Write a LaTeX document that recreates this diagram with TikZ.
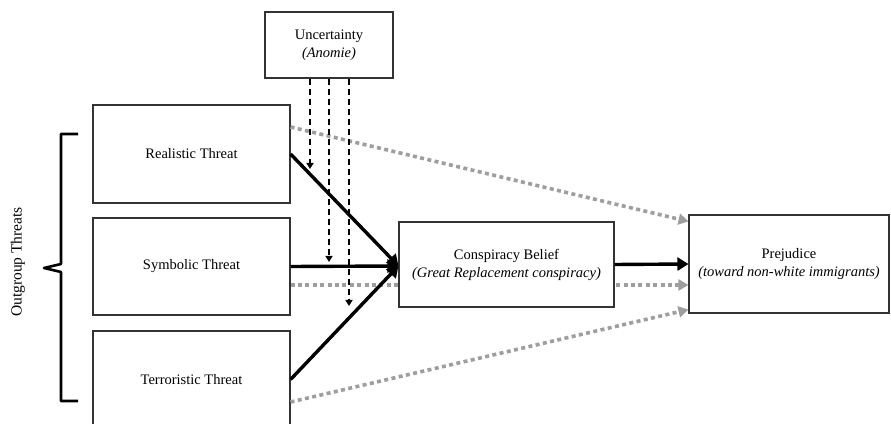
\documentclass[tikz,border=0pt]{standalone}
\usepackage{fontspec}
\setmainfont{Liberation Serif}
\usetikzlibrary{positioning,calc}
\usetikzlibrary{arrows.meta}
\definecolor{PathGray}{RGB}{158,158,158}
\tikzset{
  box/.style={draw=black!80,fill=white,line width=1.1pt,inner sep=0pt,align=center,
    font=\fontsize{14.5}{18}\selectfont},
  mainpath/.style={draw=black,line width=3.4pt,-{Triangle[length=11pt,width=13pt]}},
  directpath/.style={draw=PathGray,line width=3.6pt,dash pattern=on 4pt off 3.4pt,
    -{Triangle[length=10pt,width=11pt,fill=PathGray]}},
  moderator/.style={draw=black,line width=2.2pt,dash pattern=on 6pt off 4pt,
    -{Triangle[length=6pt,width=7pt]}},
}
\tikzset{brace/.style={draw=black,line width=2.6pt,line join=round}}

\begin{document}
\begin{tikzpicture}[x=1pt,y=1pt]
\useasboundingbox (0,0) rectangle (891,423);
% boxes
\node[box,minimum width=128pt,minimum height=66pt] (unc) at (329,378) {Uncertainty\\\textit{(Anomie)}};
\node[box,minimum width=197pt,minimum height=98pt] (real) at (191.5,269) {Realistic Threat};
\node[box,minimum width=197pt,minimum height=97pt] (symb) at (191.5,156.5) {Symbolic Threat};
\node[box,minimum width=197pt,minimum height=97pt] (terr) at (191.5,43.5) {Terroristic Threat};
\node[box,minimum width=200pt,minimum height=98pt] (prej) at (789,159) {Prejudice\\\textit{(toward non-white immigrants)}};
% direct effects (behind the mediator box)
\draw[directpath] ([yshift=27pt]real.east) -- ([yshift=-7pt]prej.north west);
\draw[directpath] ([yshift=-18.5pt]symb.east) -- ([yshift=-21pt]prej.west);
\draw[directpath] ([yshift=-22.5pt]terr.east) -- ([yshift=4pt]prej.south west);
\node[box,minimum width=215pt,minimum height=85pt] (consp) at (506.5,158.5) {Conspiracy Belief\\\textit{(Great Replacement conspiracy)}};
% indirect paths
\coordinate (conv) at ([yshift=-1.5pt]consp.west);
\draw[mainpath] (real.east) -- (conv);
\draw[mainpath] (symb.east) -- (conv);
\draw[mainpath] (terr.east) -- (conv);
\draw[mainpath] (consp.east) -- (prej.west);
% moderation by uncertainty
\coordinate (m1) at (310,254);
\coordinate (m2) at (329,161);
\coordinate (m3) at (349,117);
\draw[moderator] (unc.south -| m1) -- (m1);
\draw[moderator] (unc.south -| m2) -- (m2);
\draw[moderator] (unc.south -| m3) -- (m3);
% outgroup bracket
\draw[brace] (78,289) -- (61,289) -- (61,159) -- (44,155) -- (61,151) -- (61,22) -- (78,22);
\node[rotate=90,font=\fontsize{15.5}{18}\selectfont] (outgroup) at (18,161) {Outgroup Threats};
\end{tikzpicture}
\end{document}
